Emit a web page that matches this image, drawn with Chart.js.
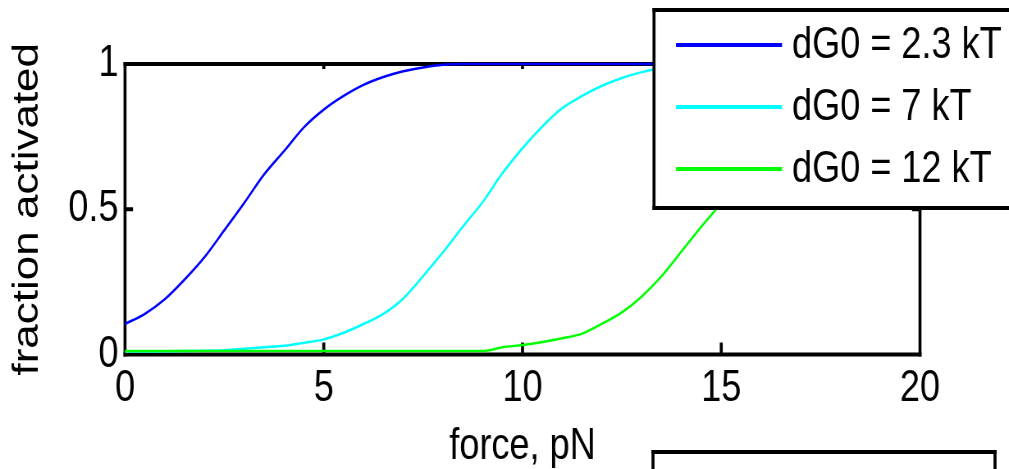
<!DOCTYPE html>
<html>
<head>
<meta charset="utf-8">
<script src="https://cdn.jsdelivr.net/npm/chart.js@4.4.1/dist/chart.umd.min.js"></script>
<style>
  html, body { margin: 0; padding: 0; background: #fff; overflow: hidden; width: 1009px; height: 469px; }
  /* the reference is a horizontally squeezed picture: draw at 1230 px wide and squeeze to 1009 */
  #wrap { position: absolute; left: 0; top: 0; width: 1230px; height: 469px;
          transform: scaleX(0.8203); transform-origin: 0 0; }
</style>
</head>
<body>
<div id="wrap"><canvas id="c"></canvas></div>
<script>
// ---- data ----
const force = [0,0.5,1,1.5,2,2.5,3,3.5,4,4.5,5,5.5,6,6.5,7,7.5,8,8.5,9,9.5,10,10.5,11,11.5,12,12.5,13,13.5,14,14.5,15,15.5,16,16.5,17,17.5,18,18.5,19,19.5,20];
const seriesLabels = ["dG0 = 2.3 kT", "dG0 = 7 kT", "dG0 = 12 kT"];
const frac23 = [0.105,0.14,0.19,0.258,0.335,0.428,0.522,0.62,0.70,0.782,0.843,0.89,0.928,0.955,0.975,0.988,0.997,1,
                1,1,1,1,1,1,1,1,1,1,1,1,1,1,1,1,1,1,1,1,1,1,1];
const frac7  = [0.01,0.01,0.011,0.012,0.013,0.015,0.02,0.025,0.03,0.04,0.052,0.075,0.105,0.14,0.193,0.27,0.352,0.44,0.525,0.625,
                0.71,0.785,0.848,0.89,0.925,0.952,0.972,0.986,0.995,1,1,1,1,1,1,1,1,1,1,1,1];
const frac12 = [0.012,0.012,0.012,0.012,0.012,0.012,0.012,0.012,0.012,0.012,0.012,0.012,0.012,0.012,0.012,0.012,0.012,0.012,0.012,
                0.025,0.033,0.043,0.056,0.072,0.106,0.145,0.2,0.27,0.355,0.44,0.522,0.62,0.70,0.782,0.843,0.89,0.928,0.955,0.975,0.988,0.997];
const xTicks = [0,5,10,15,20];
const yTicks = [0,0.5,1];
const xTitle = "force, pN";
const yTitle = "fraction activated";
const colors = ["#0000ff", "#00ffff", "#00ff00"];

// ---- layout (screen px are divided by K to get drawing px) ----
const K = 0.8203;
const sx = v => v / K;
const FONT = "'Liberation Sans', Arial, sans-serif";

function pts(ys) { return force.map((x, i) => ({x: x, y: ys[i]})); }

// frame + inner tick marks (drawn below the curves)
const framePlugin = {
  id: 'frame',
  beforeDatasetsDraw(chart) {
    const {ctx, chartArea: a, scales: {x, y}} = chart;
    const vw = sx(3), hw = 4;
    ctx.save();
    ctx.fillStyle = '#000';
    ctx.fillRect(a.left - vw / 2, a.top - hw / 2, a.right - a.left + vw, hw);
    ctx.fillRect(a.left - vw / 2, a.bottom - hw / 2, a.right - a.left + vw, hw);
    ctx.fillRect(a.left - vw / 2, a.top - hw / 2, vw, a.bottom - a.top + hw);
    ctx.fillRect(a.right - vw / 2, a.top - hw / 2, vw, a.bottom - a.top + hw);
    xTicks.forEach(v => {
      if (v === x.min || v === x.max) return;
      const px = x.getPixelForValue(v);
      ctx.fillRect(px - vw / 2, a.bottom - 12, vw, 12);
      ctx.fillRect(px - vw / 2, a.top, vw, 5);
    });
    yTicks.forEach(v => {
      if (v === y.min || v === y.max) return;
      const py = y.getPixelForValue(v);
      ctx.fillRect(a.left, py - hw / 2, sx(8), hw);
      ctx.fillRect(a.right - sx(8), py - hw / 2, sx(8), hw);
    });
    ctx.restore();
  }
};

// boxed legend (drawn on top) + the partial second box at the bottom
const legendPlugin = {
  id: 'boxLegend',
  afterDraw(chart) {
    const ctx = chart.ctx;
    const vw = sx(3), hw = 4;
    ctx.save();
    const L = sx(654), T = 10, B = 208, R = chart.width + 10;
    ctx.fillStyle = '#fff';
    ctx.fillRect(L, T, R - L, B - T);
    ctx.fillStyle = '#000';
    ctx.fillRect(L - vw / 2, T - hw / 2, R - L, hw);
    ctx.fillRect(L - vw / 2, B - hw / 2, R - L, hw);
    ctx.fillRect(L - vw / 2, T - hw / 2, vw, B - T + hw);
    const rows = [45, 107, 169];
    chart.data.datasets.forEach((ds, i) => {
      ctx.fillStyle = ds.borderColor;
      ctx.fillRect(sx(676), rows[i] - 2, sx(106), 4);
      ctx.fillStyle = '#000';
      ctx.font = "44px " + FONT;
      ctx.textBaseline = 'middle';
      ctx.textAlign = 'left';
      ctx.fillText(ds.label, sx(792), rows[i] + 1);
    });
    // second (cut off) box at the bottom
    const L2 = sx(653), T2 = 452, R2 = sx(995);
    ctx.fillStyle = '#fff';
    ctx.fillRect(L2, T2, R2 - L2, 40);
    ctx.fillStyle = '#000';
    ctx.fillRect(L2 - vw / 2, T2 - hw / 2, R2 - L2 + vw, hw);
    ctx.fillRect(L2 - vw / 2, T2 - hw / 2, vw, 40);
    ctx.fillRect(R2 - vw / 2, T2 - hw / 2, vw, 40);
    ctx.restore();
  }
};

new Chart(document.getElementById('c'), {
  type: 'line',
  data: {
    datasets: [
      {label: seriesLabels[0], data: pts(frac23), borderColor: colors[0], order: 2},
      {label: seriesLabels[1], data: pts(frac7),  borderColor: colors[1], order: 1},
      {label: seriesLabels[2], data: pts(frac12), borderColor: colors[2], order: 0}
    ].map(d => Object.assign(d, {borderWidth: 2.5, pointRadius: 0, fill: false, clip: false,
                                  cubicInterpolationMode: 'monotone'}))
  },
  options: {
    responsive: true,
    maintainAspectRatio: false,
    animation: false,
    devicePixelRatio: 1,
    layout: {padding: {top: 64, right: sx(1009 - 920), left: 0, bottom: 0}},
    plugins: {legend: {display: false}, tooltip: {enabled: false}},
    scales: {
      x: {
        type: 'linear', min: 0, max: 20,
        afterBuildTicks: s => { s.ticks = xTicks.map(v => ({value: v})); },
        ticks: {font: {family: FONT, size: 44, lineHeight: 1}, color: '#000', padding: 12, maxRotation: 0},
        grid: {display: false, drawTicks: false},
        border: {display: false},
        title: {display: true, text: xTitle, color: '#000',
                font: {family: FONT, size: 44, lineHeight: 1}, padding: {top: 0, bottom: 0}},
        afterFit: s => { s.height = 114.5; }
      },
      y: {
        type: 'linear', min: 0, max: 1,
        afterBuildTicks: s => { s.ticks = yTicks.map(v => ({value: v})); },
        ticks: {font: {family: FONT, size: 44, lineHeight: 1}, color: '#000', padding: 8,
                callback: v => String(v)},
        grid: {display: false, drawTicks: false},
        border: {display: false},
        title: {display: true, text: yTitle, color: '#000',
                font: {family: FONT, size: 44, lineHeight: 1}, padding: {top: 12, bottom: 0}},
        afterFit: s => { s.width = sx(125); }
      }
    }
  },
  plugins: [framePlugin, legendPlugin]
});
</script>
</body>
</html>
